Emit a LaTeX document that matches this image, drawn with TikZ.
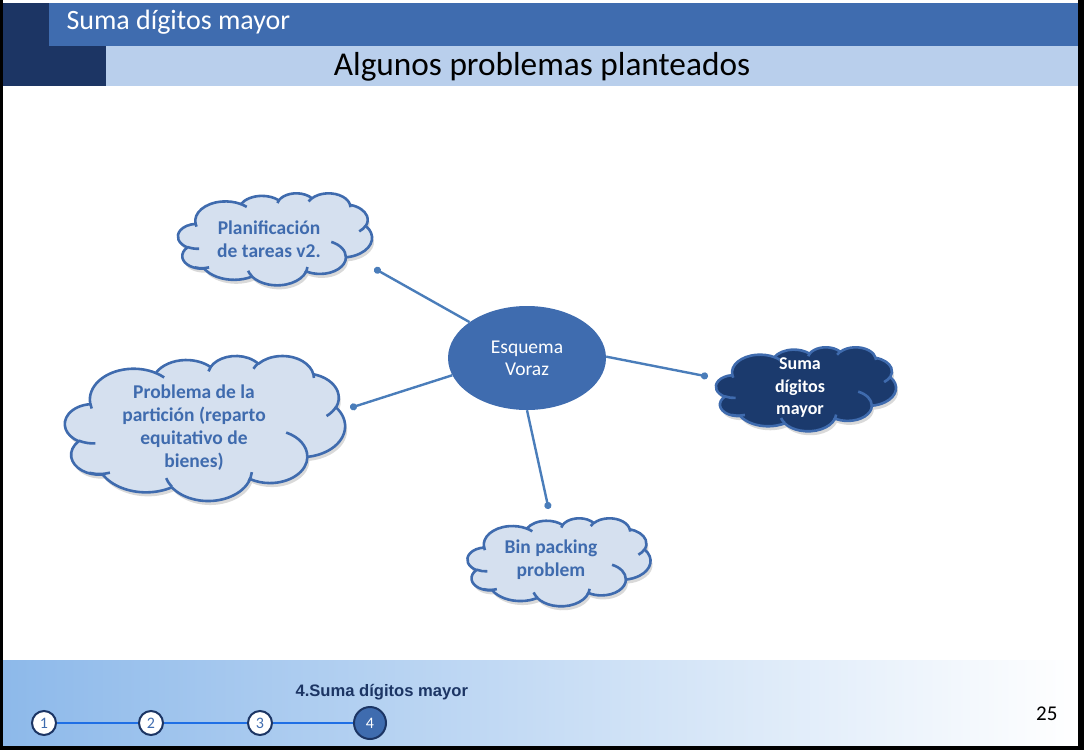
\documentclass[tikz,border=0pt]{standalone}
\usepackage{fontspec}
\setmainfont{Carlito}
\newfontfamily\arialfont{Liberation Sans}
\usetikzlibrary{shapes.geometric,arrows.meta,shadows}

\definecolor{navy}{HTML}{1C3564}
\definecolor{barblue}{HTML}{3F6CAF}
\definecolor{barlight}{HTML}{B9CFEC}
\definecolor{cloudfill}{HTML}{D5E0EF}
\definecolor{cloudline}{HTML}{3F6BAE}
\definecolor{linkblue}{HTML}{4A7DBA}
\definecolor{darkcloud}{HTML}{1B3A6D}
\definecolor{stepline}{HTML}{1F6FE5}
\definecolor{footleft}{HTML}{8DB9EA}

% elliptic arc given by radii, start angle and sweep as seen on the ellipse
\newcommand\ooarc[4]{arc[x radius=#1, y radius=#2,
  start angle={atan2((#1)*sin(#3),(#2)*cos(#3))},
  delta angle={mod(atan2((#1)*sin((#3)+(#4)),(#2)*cos((#3)+(#4)))-atan2((#1)*sin(#3),(#2)*cos(#3))+720,360)}]}

% cloud outline: centre x, centre y, width, height, fill colour
\newcommand\cloudat[5]{%
  \begin{scope}[shift={(#1-#3/2,#2-#4/2)}, xscale=#3/432, yscale=#4/432]
    \filldraw[cloudbody, fill=#5, shadowed] (39,143.7)
      \ooarc{67.53}{91.90}{-190.4875}{123.7805}
      \ooarc{53.33}{72.67}{-144.1024}{89.9452}
      \ooarc{43.65}{59.45}{-145.8079}{99.7230}
      \ooarc{48.57}{65.95}{-130.9861}{117.2417}
      \ooarc{53.33}{72.73}{-78.7089}{109.0269}
      \ooarc{67.75}{92.20}{-46.2673}{130.2690}
      \ooarc{57.85}{78.67}{0.6250}{114.0333}
      \ooarc{67.52}{92.15}{22.4516}{115.1726}
      \ooarc{77.20}{105.43}{66.2426}{75.7110}
      \ooarc{43.60}{59.18}{-274.9421}{146.7356}
      \ooarc{43.45}{59.45}{-246.8285}{152.5189} -- cycle;
    \draw[cloudbody] (46.93,261.77) \ooarc{43.45}{59.45}{86.7420}{26.4295}
      (69.28,348.99) \ooarc{43.60}{59.18}{73.6105}{31.9892}
      (164.78,390.90) \ooarc{67.52}{92.15}{137.6242}{20.8158}
      (288.27,347.51) \ooarc{67.52}{92.15}{6.4533}{23.1441}
      (341.29,229.54) \ooarc{57.85}{78.67}{-70.2861}{71.1895}
      (417.98,153.54) \ooarc{53.33}{72.73}{30.3180}{27.7515}
      (383.24,54.26) \ooarc{48.57}{65.95}{-13.7443}{14.8589}
      (290.78,39.52) \ooarc{48.57}{65.95}{-149.1815}{18.1954}
      (221.41,47.20) \ooarc{43.65}{59.45}{-163.4943}{17.6864}
      (140.00,51.92) \ooarc{67.53}{91.90}{-66.7070}{12.3194}
      (41.27,157.89) \ooarc{67.53}{91.90}{157.6544}{11.8582};
  \end{scope}}

\tikzset{
  cloudbody/.style={draw=cloudline, line width=2.6pt, line join=round},
  shadowed/.style={drop shadow={opacity=.3, shadow xshift=2pt, shadow yshift=-4pt}},
  idea/.style={text=cloudline, font=\fontsize{19.5}{23}\selectfont\bfseries, align=center, inner sep=0pt},
  link/.style={draw=linkblue, line width=2.4pt, -{Circle[length=7pt]}, shorten >=-3pt},
  stepnum/.style={circle, draw=navy, line width=2pt, fill=white, minimum size=24pt,
    inner sep=0pt, text=barblue, font=\fontsize{16}{16}\selectfont},
}

\begin{document}
\begin{tikzpicture}[x=1pt, y=-1pt]
  \useasboundingbox (0,0) rectangle (1084,750);

  % header bars
  \fill[navy] (3,3) rectangle (49,46);
  \fill[navy] (3,46) rectangle (106,86);
  \fill[barblue] (49,3) rectangle (1078,46);
  \fill[barlight] (106,46) rectangle (1078,86);
  \node[anchor=base west, text=white, font=\fontsize{28}{28}\selectfont] (head) at (63,29) {Suma dígitos mayor};
  \node[anchor=base, font=\fontsize{33.3}{33}\selectfont] (title) at (542,75) {Algunos problemas planteados};

  % footer
  \shade[left color=footleft, right color=white] (3,660) rectangle (1078,746);
  \node[stepnum] (s1) at (44,723) {1};
  \node[stepnum] (s2) at (151,723) {2};
  \node[stepnum] (s3) at (260,723) {3};
  \node[stepnum, fill=barblue, text=white, minimum size=32pt] (s4) at (370,723) {4};
  \draw[stepline, line width=2pt] (s1) -- (s2);
  \draw[stepline, line width=2pt] (s2) -- (s3);
  \draw[stepline, line width=2pt] (s3) -- (s4);
  \node[anchor=base west, text=navy, font=\arialfont\bfseries\fontsize{16.6}{16}\selectfont] (sect) at (292,696) {4.Suma dígitos mayor};
  \node[anchor=base east, font=\fontsize{21}{21}\selectfont] (page) at (1061,720) {25};

  % frame
  \fill[black] (0,0) rectangle (3,750);
  \fill[black] (0,746) rectangle (1084,750);
  \fill[black] (1078,0) rectangle (1084,750);

  % clouds
  \cloudat{275}{239}{194}{92}{cloudfill}
  \cloudat{205}{428}{280}{145}{cloudfill}
  \cloudat{806}{389}{180}{84}{darkcloud}
  \cloudat{559}{562}{183}{88}{cloudfill}

  % centre and ideas
  \node[ellipse, fill=barblue, minimum width=158pt, minimum height=104pt, text=white,
    font=\fontsize{19.5}{22}\selectfont, align=center] (esq) at (527,358) {Esquema\\Voraz};
  \node[idea] (plan) at (269,239) {Planificación\\de tareas v2.};
  \node[idea] (part) at (194,428) {Problema de la\\partición (reparto\\equitativo de\\bienes)};
  \node[idea, text=white, font=\fontsize{18}{22.5}\selectfont\bfseries] (suma) at (800,388) {Suma\\dígitos\\mayor};
  \node[idea] (bin) at (551,560) {Bin packing\\problem};

  \coordinate (d1) at (377,270);
  \coordinate (d2) at (353,407);
  \coordinate (d3) at (705,376);
  \coordinate (d4) at (548,506);
  \draw[link] (esq.148) -- (d1);
  \draw[link] (esq.193) -- (d2);
  \draw[link] (esq.1) -- (d3);
  \draw[link] (esq.270) -- (d4);
\end{tikzpicture}
\end{document}
